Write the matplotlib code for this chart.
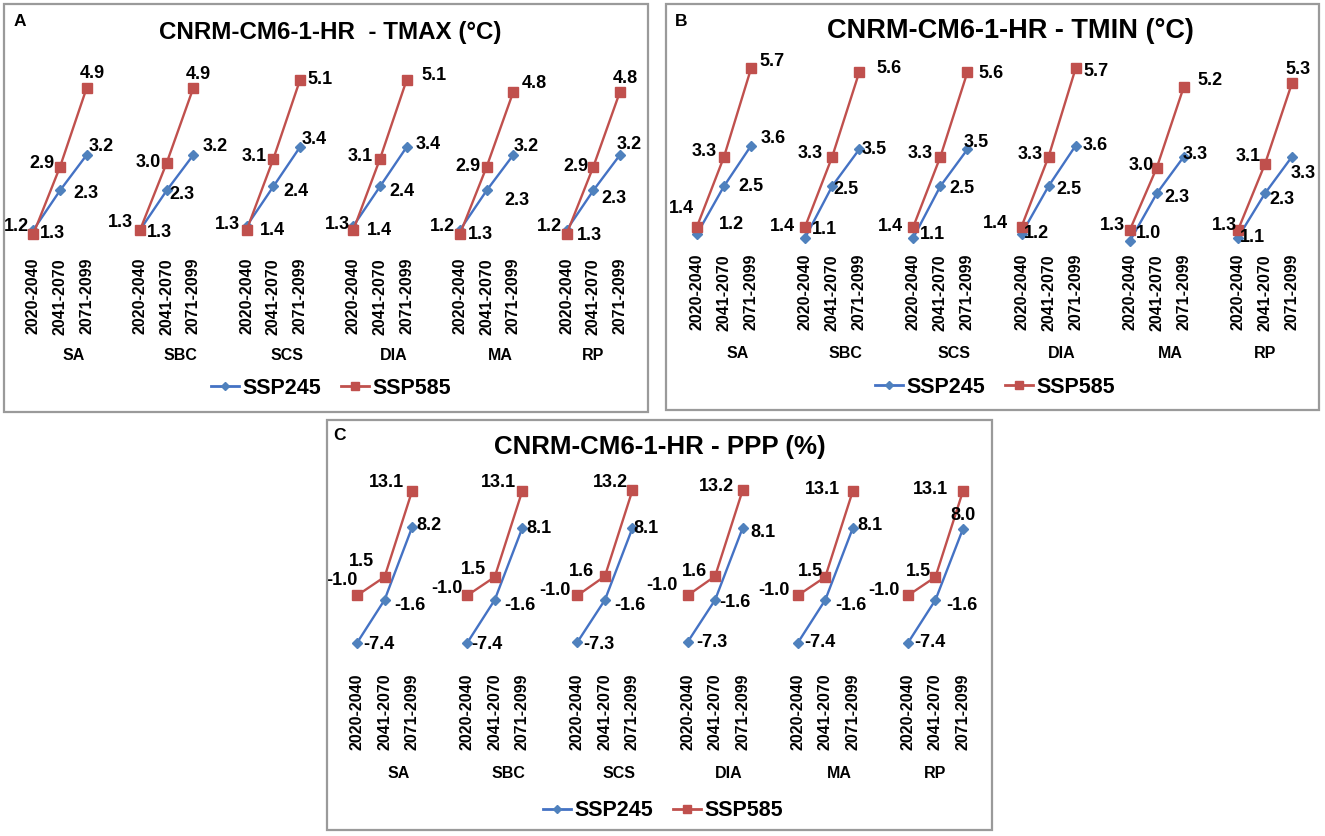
import matplotlib
matplotlib.use('Agg')
import matplotlib.pyplot as plt
from matplotlib.transforms import blended_transform_factory
from matplotlib.lines import Line2D
from matplotlib.patches import Rectangle

plt.rcParams['font.family'] = ['Liberation Sans', 'DejaVu Sans']

W, H = 1325, 836

regions = ['SA', 'SBC', 'SCS', 'DIA', 'MA', 'RP']
periods = ['2020-2040', '2041-2070', '2071-2099']
series_names = ['SSP245', 'SSP585']

# values per region, per period
tmax_245 = [[1.3, 2.3, 3.2], [1.3, 2.3, 3.2], [1.4, 2.4, 3.4],
            [1.4, 2.4, 3.4], [1.3, 2.3, 3.2], [1.3, 2.3, 3.2]]
tmax_585 = [[1.2, 2.9, 4.9], [1.3, 3.0, 4.9], [1.3, 3.1, 5.1],
            [1.3, 3.1, 5.1], [1.2, 2.9, 4.8], [1.2, 2.9, 4.8]]
tmin_245 = [[1.2, 2.5, 3.6], [1.1, 2.5, 3.5], [1.1, 2.5, 3.5],
            [1.2, 2.5, 3.6], [1.0, 2.3, 3.3], [1.1, 2.3, 3.3]]
tmin_585 = [[1.4, 3.3, 5.7], [1.4, 3.3, 5.6], [1.4, 3.3, 5.6],
            [1.4, 3.3, 5.7], [1.3, 3.0, 5.2], [1.3, 3.1, 5.3]]
ppp_245 = [[-7.4, -1.6, 8.2], [-7.4, -1.6, 8.1], [-7.3, -1.6, 8.1],
           [-7.3, -1.6, 8.1], [-7.4, -1.6, 8.1], [-7.4, -1.6, 8.0]]
ppp_585 = [[-1.0, 1.5, 13.1], [-1.0, 1.5, 13.1], [-1.0, 1.6, 13.2],
           [-1.0, 1.6, 13.2], [-1.0, 1.5, 13.1], [-1.0, 1.5, 13.1]]

BLUE = '#4472C4'
BLUE_M = '#4F81BD'
RED = '#C0504D'

# label offsets in pixels (dx, dy downwards), per region: (ssp585 list, ssp245 list)
offs_a = [([(-17, -7), (-18, -3), (6, -14)], [(19, 4), (26, 3), (14, -8)]),
          ([(-20, -7), (-18, 0), (5, -13)], [(19, 3), (15, 4), (22, -8)]),
          ([(-19, -5), (-19, -2), (20, 0)], [(26, 5), (23, 5), (14, -7)]),
          ([(-16, -5), (-20, -2), (27, -4)], [(26, 5), (22, 5), (21, -2)]),
          ([(-18, -7), (-19, 0), (21, -8)], [(20, 5), (30, 10), (13, -8)]),
          ([(-17, -7), (-17, 0), (5, -13)], [(23, 6), (21, 8), (9, -10)])]
offs_b = [([(-16, -18), (-20, -5), (21, -7)], [(34, -9), (27, 0), (22, -7)]),
          ([(-23, 0), (-22, -3), (30, -4)], [(19, -8), (14, 3), (15, 0)]),
          ([(-23, 0), (-20, -3), (24, 1)], [(19, -3), (22, 2), (9, -7)]),
          ([(-26, -3), (-18, -2), (20, 3)], [(15, 0), (20, 3), (20, 0)]),
          ([(-17, -5), (-16, -2), (26, -6)], [(19, -8), (20, 4), (11, -2)]),
          ([(-13, -5), (-17, -8), (6, -14)], [(15, 0), (17, 6), (11, 17)])]
offs_c = [([(-15, -15), (-23, -15), (-26, -8)], [(22, 2), (25, 6), (17, -2)]),
          ([(-20, -7), (-21, -7), (-24, -8)], [(20, 2), (25, 6), (17, 0)]),
          ([(-22, -5), (-23, -5), (-22, -8)], [(22, 2), (25, 6), (13, 0)]),
          ([(-26, -10), (-21, -5), (-26, -4)], [(24, 0), (20, 3), (20, 4)]),
          ([(-24, -5), (-15, -5), (-30, -1)], [(22, 0), (26, 6), (17, -3)]),
          ([(-24, -5), (-17, -5), (-33, -1)], [(22, 0), (26, 6), (0, -13)])]

panels = [
    dict(letter='A', title='CNRM-CM6-1-HR  - TMAX (°C)', s245=tmax_245, s585=tmax_585,
         offs=offs_a, box=(4, 4, 648, 412), first=33.4, last=620,
         ylim=(1, 6), ypx=(241.75, 44.3), tick_top=258, group_y=356,
         legend=(331, 388), title_xy=(330, 32), title_fs=17.4, letter_xy=(20, 22)),
    dict(letter='B', title='CNRM-CM6-1-HR - TMIN (°C)', s245=tmin_245, s585=tmin_585,
         offs=offs_b, box=(666, 4, 1319, 410), first=697, last=1292,
         ylim=(1, 6), ypx=(241.3, 57.3), tick_top=254, group_y=353,
         legend=(995, 387), title_xy=(1010, 31), title_fs=19.5, letter_xy=(681, 21)),
    dict(letter='C', title='CNRM-CM6-1-HR - PPP (%)', s245=ppp_245, s585=ppp_585,
         offs=offs_c, box=(327, 420, 992, 830), first=357, last=963,
         ylim=(-10, 15), ypx=(662.2, 476.9), tick_top=673, group_y=774,
         legend=(663, 811), title_xy=(660, 447), title_fs=18.6, letter_xy=(339, 436)),
]

fig = plt.figure(figsize=(W / 100, H / 100), dpi=100)
fig.patch.set_facecolor('white')


def fx(px):
    return px / W


def fy(py):
    return 1 - py / H


n_slots = len(regions) * 4 - 1
for p in panels:
    x0, y0, x1, y1 = p['box']
    fig.patches.append(Rectangle((fx(x0), fy(y1)), fx(x1 - x0), (y1 - y0) / H,
                                 transform=fig.transFigure, fill=False,
                                 edgecolor='#9a9a9a', linewidth=1.6, zorder=0))
    slot = (p['last'] - p['first']) / (n_slots - 1)
    left = p['first'] - slot / 2
    right = p['last'] + slot / 2
    ybot, ytop = p['ypx']
    ax = fig.add_axes([fx(left), fy(ybot), fx(right - left), (ybot - ytop) / H])
    ax.set_xlim(-0.5, n_slots - 0.5)
    ax.set_ylim(*p['ylim'])
    for s in ax.spines.values():
        s.set_visible(False)
    ax.set_yticks([])
    ax.patch.set_alpha(0)

    tick_pos, tick_lab = [], []
    for g, reg in enumerate(regions):
        xs = [g * 4 + k for k in range(3)]
        tick_pos += xs
        tick_lab += periods
        ax.plot(xs, p['s245'][g], color=BLUE, lw=1.7, marker='D', ms=5.5,
                mfc=BLUE_M, mec=BLUE_M, clip_on=False, zorder=3)
        ax.plot(xs, p['s585'][g], color=RED, lw=1.7, marker='s', ms=7.5,
                mfc=RED, mec=RED, clip_on=False, zorder=4)
        o585, o245 = p['offs'][g]
        for k in range(3):
            for vals, o in ((p['s245'][g], o245), (p['s585'][g], o585)):
                dx, dy = o[k]
                ax.annotate(f'{vals[k]:.1f}', (xs[k], vals[k]), xytext=(dx, -dy),
                            textcoords='offset pixels', ha='center', va='center',
                            fontsize=13, fontweight='bold', annotation_clip=False,
                            zorder=5)
        gx = g * 4 + 1.5 if g < len(regions) - 1 else g * 4 + 1
        trans = blended_transform_factory(ax.transData, fig.transFigure)
        ax.text(gx, fy(p['group_y']), reg, transform=trans, ha='center',
                va='center', fontsize=11.5, fontweight='bold')

    ax.set_xticks(tick_pos, tick_lab, rotation=90, fontsize=11.5, fontweight='bold')
    ax.tick_params(axis='x', length=0, pad=(p['tick_top'] - ybot) * 72 / 100)

    handles = [Line2D([], [], color=BLUE, lw=2, marker='D', ms=4, mfc=BLUE_M, mec=BLUE_M),
               Line2D([], [], color=RED, lw=2, marker='s', ms=6, mfc=RED, mec=RED)]
    lx, ly = p['legend']
    ax.legend(handles, series_names, loc='center', bbox_to_anchor=(fx(lx), fy(ly)),
              bbox_transform=fig.transFigure, ncol=2, frameon=False,
              prop=dict(size=15.5, weight='bold'), handlelength=1.3,
              handletextpad=0.15, columnspacing=0.9, borderpad=0)

    tx, ty = p['title_xy']
    fig.text(fx(tx), fy(ty), p['title'], ha='center', va='center',
             fontsize=p['title_fs'], fontweight='bold')
    lx, ly = p['letter_xy']
    fig.text(fx(lx), fy(ly), p['letter'], ha='center', va='center',
             fontsize=12.5, fontweight='bold')

fig.savefig('out.png', dpi=100, facecolor='white')
